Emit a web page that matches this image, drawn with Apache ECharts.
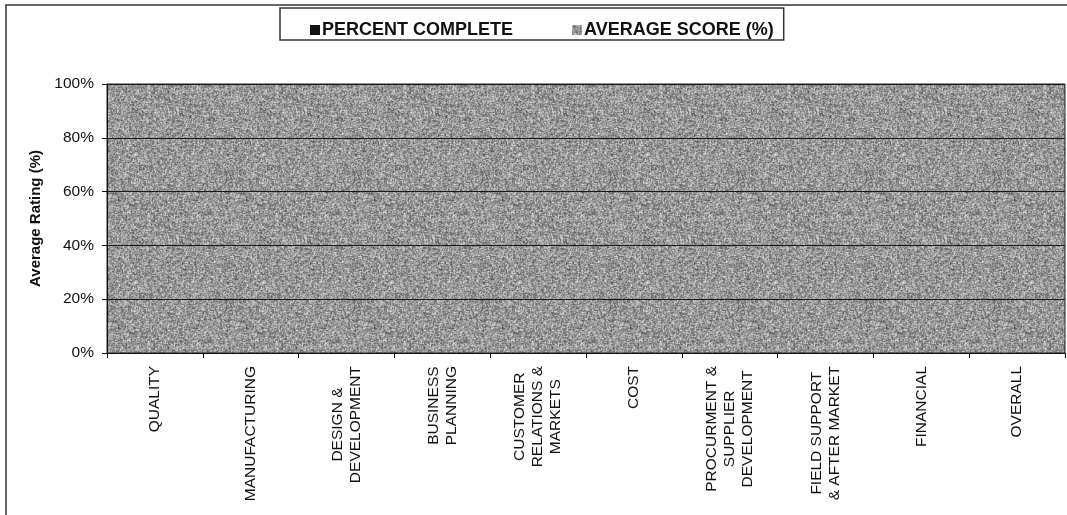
<!DOCTYPE html>
<html>
<head>
<meta charset="utf-8">
<title>Average Rating by Category</title>
<script src="https://cdn.jsdelivr.net/npm/echarts@6/dist/echarts.min.js"></script>
<style>
  html, body { margin: 0; padding: 0; background: #fff; }
  #chart { width: 1067px; height: 515px; }
</style>
</head>
<body>
<div id="chart"></div>
<script>
// Categories along the x axis (line breaks as printed)
const categories = [
  'QUALITY',
  'MANUFACTURING',
  'DESIGN &\nDEVELOPMENT',
  'BUSINESS\nPLANNING',
  'CUSTOMER\nRELATIONS &\nMARKETS',
  'COST',
  'PROCURMENT &\nSUPPLIER\nDEVELOPMENT',
  'FIELD SUPPORT\n& AFTER MARKET',
  'FINANCIAL',
  'OVERALL'
];

// Series values (percent); no results entered yet
const percentComplete = [0, 0, 0, 0, 0, 0, 0, 0, 0, 0];
const averageScore    = [0, 0, 0, 0, 0, 0, 0, 0, 0, 0];

// Value axis ticks
const yTicks = [0, 20, 40, 60, 80, 100];

const FONT = "'Liberation Sans', Arial, sans-serif";

// Grainy grey fill used for the plot area and the score series
function makeGrain(size) {
  const hash = (x, y, s) => {
    let h = Math.imul(x + s * 131, 374761393) ^ Math.imul(y + s * 71, 668265263);
    h = Math.imul(h ^ (h >>> 13), 1274126177);
    h ^= h >>> 16;
    return (h >>> 0) / 4294967296;
  };
  const raw = new Float32Array(size * size);
  for (let y = 0; y < size; y++) {
    for (let x = 0; x < size; x++) {
      const a = hash(x, y, 1), b = hash(x, y, 2);
      let v = 147 + (a + b - 1) * 85;
      if (hash(x, y, 3) > 0.94) v = 198 + hash(x, y, 4) * 35;
      raw[y * size + x] = v;
    }
  }
  const c = document.createElement('canvas');
  c.width = size; c.height = size;
  const ctx = c.getContext('2d');
  const img = ctx.createImageData(size, size);
  const at = (x, y) => raw[((y + size) % size) * size + ((x + size) % size)];
  for (let y = 0; y < size; y++) {
    for (let x = 0; x < size; x++) {
      // light softening so neighbouring grains blend a little
      let v = 0.6 * at(x, y) + 0.1 * (at(x - 1, y) + at(x + 1, y) + at(x, y - 1) + at(x, y + 1));
      v = Math.max(75, Math.min(232, v));
      const i = (y * size + x) * 4;
      img.data[i] = img.data[i + 1] = img.data[i + 2] = v;
      img.data[i + 3] = 255;
    }
  }
  ctx.putImageData(img, 0, 0);
  return c;
}
const grain = { image: makeGrain(128), repeat: 'repeat' };

const chart = echarts.init(document.getElementById('chart'), null, { renderer: 'canvas' });

chart.setOption({
  animation: false,
  backgroundColor: '#ffffff',
  textStyle: { fontFamily: FONT },
  graphic: [{
    type: 'rect',
    shape: { x: 6, y: 5, width: 1200, height: 700 },
    style: { fill: 'none', stroke: '#333', lineWidth: 1.5 },
    silent: true,
    z: -10
  }],
  legend: {
    left: 280, top: 8,
    padding: [13, 10, 1, 30],
    borderColor: '#333',
    borderWidth: 1.5,
    itemGap: 59,
    itemWidth: 10,
    itemHeight: 10,
    icon: 'rect',
    textStyle: { fontFamily: FONT, fontSize: 18, fontWeight: 'bold', color: '#111', padding: [0, 0, 0, -3] },
    data: ['PERCENT COMPLETE', 'AVERAGE SCORE (%)']
  },
  grid: {
    left: 107, right: 2, top: 84, bottom: 162,
    show: true,
    backgroundColor: grain,
    borderColor: '#222',
    borderWidth: 1
  },
  xAxis: {
    type: 'category',
    data: categories,
    axisLine: { lineStyle: { color: '#111', width: 1 } },
    axisTick: { show: true, length: 5, lineStyle: { color: '#111' } },
    axisLabel: {
      rotate: 90,
      margin: 13,
      interval: 0,
      formatter: v => v.split('\n').map(l => '{c|' + l + '}').join('\n'),
      rich: {
        c: { align: 'center', fontFamily: FONT, fontSize: 15.5, lineHeight: 18, color: '#111' }
      }
    }
  },
  yAxis: {
    type: 'value',
    min: yTicks[0],
    max: yTicks[yTicks.length - 1],
    interval: yTicks[1] - yTicks[0],
    name: 'Average Rating (%)',
    nameLocation: 'middle',
    nameGap: 62,
    nameTextStyle: { fontFamily: FONT, fontSize: 15, fontWeight: 'bold', color: '#111' },
    axisLine: { show: true, lineStyle: { color: '#111', width: 1 } },
    axisTick: { show: true, length: 5, lineStyle: { color: '#111' } },
    axisLabel: {
      margin: 13,
      formatter: '{value}%',
      fontFamily: FONT, fontSize: 15.5, color: '#111'
    },
    splitLine: { show: true, lineStyle: { color: '#1a1a1a', width: 1 } }
  },
  series: [
    {
      name: 'PERCENT COMPLETE',
      type: 'bar',
      data: percentComplete,
      itemStyle: { color: '#111111' },
      barGap: '0%',
      barCategoryGap: '40%'
    },
    {
      name: 'AVERAGE SCORE (%)',
      type: 'bar',
      data: averageScore,
      itemStyle: { color: grain }
    }
  ]
});
</script>
</body>
</html>
